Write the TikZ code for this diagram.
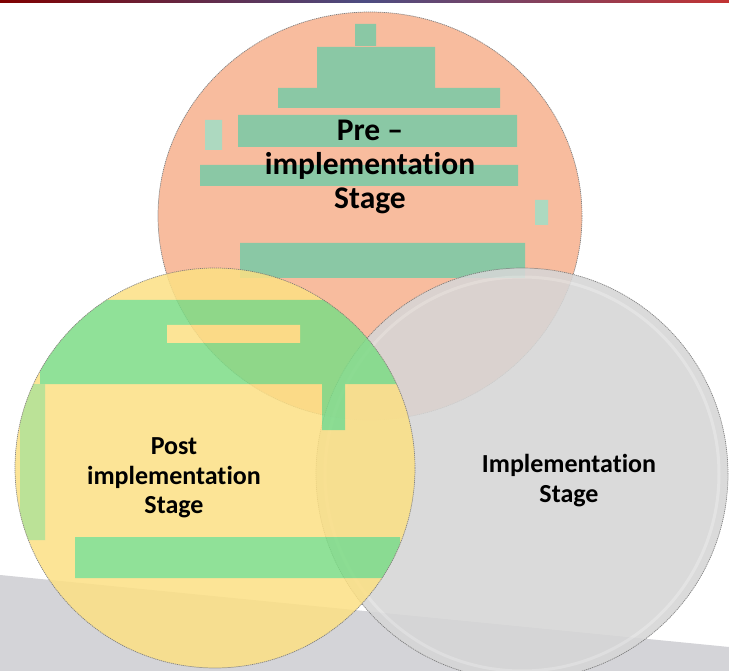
\documentclass[tikz,border=0pt]{standalone}
\usepackage{fontspec}
\setmainfont{Carlito}[Ligatures={NoCommon,NoRequired,NoContextual}]
\begin{document}
\begin{tikzpicture}[x=1pt,y=-1pt,
  rim/.style={draw=black!55, line width=0.7pt, dash pattern=on 1.2pt off 0.8pt},
  lbl/.style={align=center, font=\bfseries, text=black, inner sep=0pt},
]
\definecolor{bandgrey}{HTML}{D4D4D8}
\definecolor{salmon}{HTML}{F8B594}
\definecolor{tealgreen}{HTML}{7EC39C}
\definecolor{sunyellow}{HTML}{FCE084}
\definecolor{leafgreen}{HTML}{7DDC86}
\definecolor{disc}{HTML}{D6D6D6}
\useasboundingbox (0,0) rectangle (729,671);
\fill[white] (0,0) rectangle (729,671);
% top bar
\shade[left color=red!50!black, right color=red!70!black!80!white, middle color=blue!30!black!70!white] (0,0) rectangle (729,3);
% grey band
\fill[bandgrey] (0,575) -- (729,647) -- (729,671) -- (0,671) -- cycle;

% orange disc
\begin{scope}[transparency group, opacity=0.9]
  \begin{scope}
    \clip (370,216) ellipse [x radius=212pt, y radius=204pt];
    \fill[salmon] (150,0) rectangle (600,430);
    \fill[tealgreen] (317,47) rectangle (435,92);
    \fill[tealgreen] (278,88) rectangle (500,108);
    \fill[tealgreen] (238,115) rectangle (517,147);
    \fill[tealgreen] (200,165) rectangle (518,186);
    \fill[tealgreen] (240,243) rectangle (525,278);
    \fill[tealgreen] (355,24) rectangle (376,46);
    \fill[tealgreen!70!white] (205,120) rectangle (222,150);
    \fill[tealgreen!70!white] (535,200) rectangle (548,225);
  \end{scope}
  \draw[rim] (370,216) ellipse [x radius=212pt, y radius=204pt];
\end{scope}

% grey disc
\begin{scope}[transparency group, opacity=0.88]
  \fill[disc] (522,474) circle [radius=206pt];
  \draw[white!88!black, line width=3pt] (522,474) circle [radius=197pt];
  \draw[rim] (522,474) circle [radius=206pt];
\end{scope}

% yellow disc
\begin{scope}[transparency group, opacity=0.85]
  \begin{scope}
    \clip (215,468) circle [radius=200pt];
    \fill[sunyellow] (0,260) rectangle (420,680);
    \fill[leafgreen] (40,300) rectangle (420,384);
    \fill[sunyellow] (167,325) rectangle (300,343);
    \fill[leafgreen] (75,537) rectangle (400,578);
    \fill[leafgreen] (322,384) rectangle (345,430);
    \fill[leafgreen!60!sunyellow] (20,384) rectangle (45,540);
  \end{scope}
  \draw[rim] (215,468) circle [radius=200pt];
\end{scope}

% labels
\node[lbl, font=\bfseries\fontsize{31.5}{34}\selectfont] (pre) at (370,167) {Pre –\\implementation\\Stage};
\node[lbl, font=\bfseries\fontsize{26}{29.5}\selectfont] (post) at (174,478) {Post\\implementation\\Stage};
\node[lbl, font=\bfseries\fontsize{26}{30}\selectfont] (impl) at (569,481) {Implementation\\Stage};
\end{tikzpicture}
\end{document}
